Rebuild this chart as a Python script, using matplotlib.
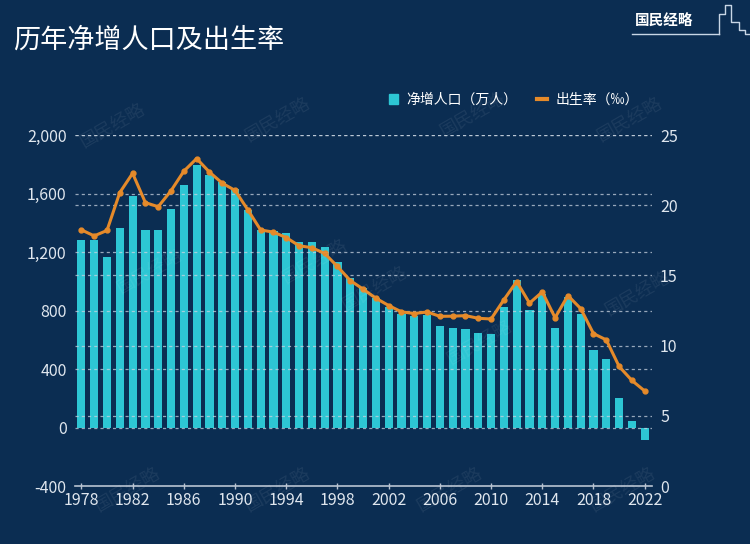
import matplotlib
matplotlib.use('Agg')
import matplotlib.pyplot as plt
from matplotlib.patches import Rectangle
from matplotlib.lines import Line2D

plt.rcParams['font.family'] = ['Noto Sans CJK SC', 'DejaVu Sans']

years = list(range(1978, 2023))
net_increase = [1285, 1283, 1163, 1367, 1582, 1354, 1349, 1494, 1656, 1793,
                1726, 1678, 1629, 1490, 1348, 1346, 1333, 1271, 1268, 1237,
                1135, 1025, 957, 884, 826, 774, 761, 768, 692, 681,
                673, 648, 641, 825, 1006, 804, 910, 680, 890, 779,
                530, 467, 204, 48, -85]
birth_rate = [18.25, 17.82, 18.21, 20.91, 22.28, 20.19, 19.90, 21.04, 22.43, 23.33,
              22.37, 21.58, 21.06, 19.68, 18.24, 18.09, 17.70, 17.12, 16.98, 16.57,
              15.64, 14.64, 14.03, 13.38, 12.86, 12.41, 12.29, 12.40, 12.09, 12.10,
              12.14, 11.95, 11.90, 13.27, 14.57, 13.03, 13.83, 11.99, 13.57, 12.64,
              10.86, 10.41, 8.52, 7.52, 6.77]
left_ticks = [-400, 0, 400, 800, 1200, 1600, 2000]
left_labels = ['-400', '0', '400', '800', '1,200', '1,600', '2,000']
right_ticks = [0, 5, 10, 15, 20, 25]
x_ticks = list(range(1978, 2023, 4))

title = '历年净增人口及出生率'
bar_label = '净增人口（万人）'
line_label = '出生率（‰）'
brand = '国民经略'

BG = '#0b2d52'
BAR = '#2dc6d4'
ORANGE = '#e58a2a'
TXT = '#dfe6ee'
GRID = '#c9d3df'

fig = plt.figure(figsize=(7.5, 5.44), dpi=100, facecolor=BG)
ax = fig.add_axes([0.1, 0.1066, 0.769, 0.645])
ax.set_facecolor(BG)

ax.bar(years, net_increase, width=0.64, color=BAR, zorder=2)
ax.set_xlim(1977.5, 2022.55)
ax.set_ylim(-400, 2000)
ax.set_yticks(left_ticks)
ax.set_yticklabels(left_labels)
ax.set_xticks(x_ticks)
ax.set_xticklabels([str(y) for y in x_ticks])

for yv in left_ticks[1:]:
    ax.axhline(yv, color=GRID, lw=0.9, ls=(0, (2.5, 2.5)), alpha=0.75, zorder=3)

for s in ['top', 'left', 'right']:
    ax.spines[s].set_visible(False)
ax.spines['bottom'].set_color('#b9c4d2')
ax.spines['bottom'].set_linewidth(1.2)
ax.tick_params(axis='x', colors='#b9c4d2', direction='inout', length=4, width=1,
               labelcolor=TXT, labelsize=11.5, pad=2)
ax.tick_params(axis='y', length=0, labelcolor=TXT, labelsize=11.5, pad=6)

ax2 = ax.twinx()
ax2.set_ylim(0, 25)
ax2.set_yticks(right_ticks)
for yv in right_ticks[1:]:
    ax2.axhline(yv, color=GRID, lw=0.9, ls=(0, (2.5, 2.5)), alpha=0.75, zorder=1)
ax2.plot(years, birth_rate, color=ORANGE, lw=2.2, marker='o', ms=3.5, zorder=5)
for s in ax2.spines.values():
    s.set_visible(False)
ax2.tick_params(axis='y', length=0, labelcolor=TXT, labelsize=11.5, pad=6)

# watermarks
for (wx, wy) in [(0.15, 0.77), (0.37, 0.78), (0.63, 0.79), (0.84, 0.78),
                 (0.2, 0.5), (0.5, 0.47), (0.85, 0.46), (0.64, 0.37),
                 (0.37, 0.1), (0.6, 0.1), (0.83, 0.1), (0.17, 0.1), (0.42, 0.52)]:
    fig.text(wx, wy, brand, color='white', alpha=0.07, fontsize=13, rotation=30,
             ha='center', va='center')

# title
fig.text(0.018, 0.926, title, color='white', fontsize=19.5, ha='left', va='center')

# brand logo
fig.text(0.846, 0.962, brand, color='white', fontsize=10.5, ha='left', va='center',
         fontweight='bold')
fig.add_artist(Line2D([0.843, 0.958], [0.937, 0.937], color='#c8d6e6', lw=1.0,
                      transform=fig.transFigure))
fig.add_artist(Line2D([0.958, 0.958, 0.966, 0.966, 0.975, 0.975, 0.985, 0.985, 0.993, 0.993, 1.0],
                      [0.937, 0.975, 0.975, 0.99, 0.99, 0.96, 0.96, 0.945, 0.945, 0.937, 0.937],
                      color='#c8d6e6', lw=1.0, transform=fig.transFigure))

# legend
handles = [Rectangle((0, 0), 1, 1, color=BAR),
           Line2D([0], [0], color=ORANGE, lw=3)]
leg = fig.legend(handles, [bar_label, line_label], loc='center right',
                 bbox_to_anchor=(0.868, 0.816), ncol=2, frameon=False,
                 fontsize=10, labelcolor='white', handlelength=0.7,
                 handleheight=0.7, handletextpad=0.6, columnspacing=1.4)

fig.savefig('out.png', dpi=100, facecolor=BG)
